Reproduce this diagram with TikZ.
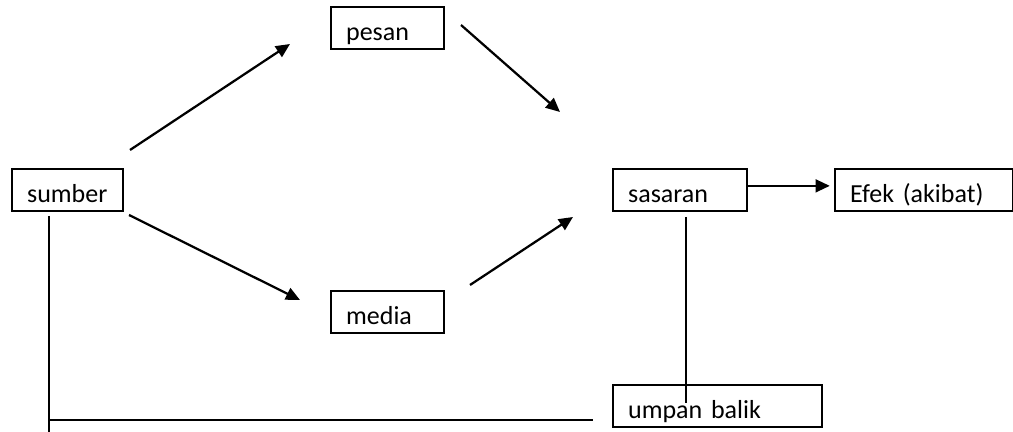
\documentclass[tikz,border=0pt]{standalone}
\usepackage{fontspec}
\setmainfont{Carlito}
\usetikzlibrary{arrows.meta}

\tikzset{
  kotak/.style={draw, line width=1.6pt, anchor=south west, inner xsep=0.375cm, inner ysep=0pt,
    text height=0.85cm, text depth=0.2cm, align=left, font=\fontsize{18.5}{21}\selectfont},
  panah/.style={line width=1.6pt, -{Triangle[length=10pt,width=9pt]}},
  garis/.style={line width=1.4pt}
}

\begin{document}
\begin{tikzpicture}[x=0.025cm,y=-0.025cm]
          \useasboundingbox (0,0) rectangle (1013,432);
          % kotak
          \node[kotak,text width=2.075cm] (pesan) at (330,50) {pesan};
          \node[kotak,text width=2.025cm] (sumber) at (11,212) {sumber};
          \node[kotak,text width=2.075cm] (media) at (330,334) {media};
          \node[kotak,text width=2.6cm] (sasaran) at (612,212) {sasaran};
          \node[kotak,text width=3.7cm] (efek) at (834,212) {Efek (akibat)};
          \node[kotak,text width=4.475cm] (umpan) at (612,428) {umpan balik};
          % titik ujung
          \coordinate (sp1) at (130,150);
          \coordinate (sp2) at (290,44);
          \coordinate (ps1) at (461,25);
          \coordinate (ps2) at (560,112);
          \coordinate (sm1) at (129,215);
          \coordinate (sm2) at (300,300);
          \coordinate (ms1) at (470,285);
          \coordinate (ms2) at (573,217);
          \coordinate (kiri1) at (49,216);
          \coordinate (kiri2) at (49,432);
          \coordinate (bawah1) at (48,420);
          \coordinate (bawah2) at (593,420);
          \coordinate (balik1) at (686,217);
          \coordinate (balik2) at (686,403);
          % panah
          \draw[panah] (sp1) -- (sp2);
          \draw[panah] (ps1) -- (ps2);
          \draw[panah] (sm1) -- (sm2);
          \draw[panah] (ms1) -- (ms2);
          \draw[panah,shorten >=3pt] ([yshift=0.1cm]sasaran.east) -- ([yshift=0.1cm]efek.west);
          % umpan balik
          \draw[garis] (kiri1) -- (kiri2);
          \draw[garis] (bawah1) -- (bawah2);
          \draw[garis] (balik1) -- (balik2);
        \end{tikzpicture}
\end{document}
